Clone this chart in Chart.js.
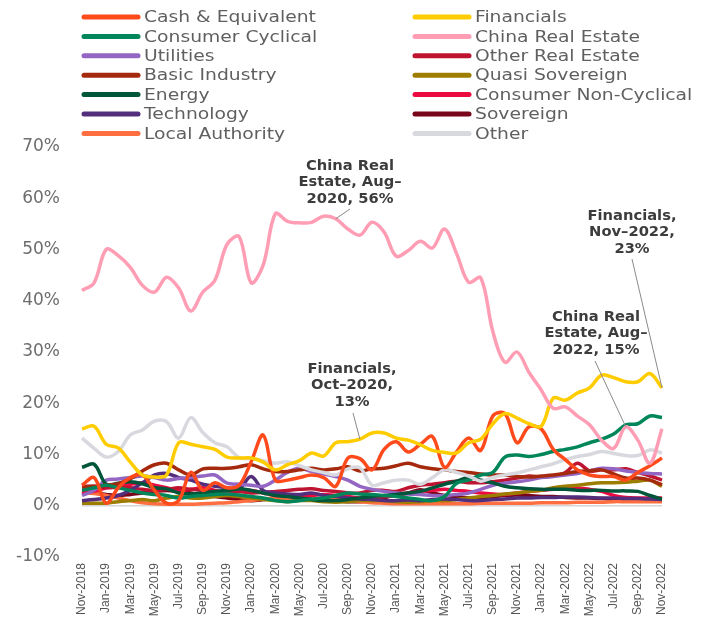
<!DOCTYPE html>
<html>
<head>
<meta charset="utf-8">
<script src="https://cdn.jsdelivr.net/npm/chart.js@4.4.1/dist/chart.umd.min.js"></script>
<style>
  html, body { margin: 0; padding: 0; background: #fff; }
  #wrap { width: 712px; height: 618px; }
</style>
</head>
<body>
<div id="wrap"><canvas id="chart" width="712" height="618"></canvas></div>
<script>
// monthly categories
const months = ['Nov-2018','Dec-2018','Jan-2019','Feb-2019','Mar-2019','Apr-2019','May-2019','Jun-2019','Jul-2019','Aug-2019','Sep-2019','Oct-2019',
  'Nov-2019','Dec-2019','Jan-2020','Feb-2020','Mar-2020','Apr-2020','May-2020','Jun-2020','Jul-2020','Aug-2020','Sep-2020','Oct-2020',
  'Nov-2020','Dec-2020','Jan-2021','Feb-2021','Mar-2021','Apr-2021','May-2021','Jun-2021','Jul-2021','Aug-2021','Sep-2021','Oct-2021',
  'Nov-2021','Dec-2021','Jan-2022','Feb-2022','Mar-2022','Apr-2022','May-2022','Jun-2022','Jul-2022','Aug-2022','Sep-2022','Oct-2022','Nov-2022'];

const yTicks = [-10, 0, 10, 20, 30, 40, 50, 60, 70];

// series (% of portfolio)
const cashEquivalent = [4,5.5,0.5,3.5,5.5,6,3,0.5,1,6.5,3,4.5,3.5,4,8.6,13.8,5,5,5.5,6,5.5,3.8,9.3,9.2,7,11,12.5,10.5,12,13.5,7.5,10.5,13.2,10.8,17.5,18,12.3,15.4,15,11,9,7,6,5.7,5.7,5,6.5,7.8,9.3];
const financials = [15,15.5,12,11.3,8.5,6,5.6,6,12.3,12,11.5,11,9.5,9.3,9.3,8.5,7,8,8.8,10.3,9.7,12.3,12.5,13,14.2,14.2,13.2,12.8,11.9,10.8,10.4,10.3,12.3,13,16,18,17.1,16,15.5,21,20.6,22,23,25.5,25,24.2,24.2,25.8,23];
const consumerCyclical = [3,3.5,4,3.5,3,2.5,2.2,2,1.5,1.8,2,2.2,2.3,2.1,1.8,1.5,1,0.8,1,1.3,1.5,2,2.5,2.3,2.2,2,1.8,1.5,1.2,1,1.8,4.4,5,6,6.5,9.5,9.9,9.6,10,10.6,11,11.5,12.3,13,14,15.8,16,17.5,17.2];
const chinaRealEstate = [42,43.5,50,48.8,46.5,43,41.7,44.6,42.5,38,41.7,44,51,52.5,43.5,47,57,55.5,55.2,55.3,56.5,56,54,52.8,55.3,53.4,48.7,49.8,51.6,50.3,54,49.2,43.6,44.5,34,28,30,26,22.6,19,19.3,17.5,15.8,12.8,11.2,15.4,12.8,8.3,15];
const utilities = [2,3,5,5.2,5.5,5.8,5.5,5,5.3,5.5,5.8,6,4.4,4.2,4,3.8,5,6.5,7.3,6.7,6.2,5.7,5,3.8,3.2,2.8,2.5,2.3,2.2,2,2,2.2,2.5,3.2,4,4.4,4.7,5,5.5,5.7,6,6.3,6.8,7.3,7.2,6.8,6.5,6.3,6.2];
const otherRealEstate = [3.8,3.8,3.5,3.6,3.5,3.2,3,3.2,3.5,3.2,3,2.8,3,2.8,2.5,2.6,2.8,3,3.2,3.3,3,2.8,2.5,2.5,3,3,2.8,3.5,4,4.2,4.5,4.8,4.5,4.5,4.7,5,5.4,5.8,5.6,5.8,6.5,8.3,6.8,7,7,7.2,6.5,5.8,5];
const basicIndustry = [3.6,3.8,4,4.3,5.3,6.8,8,8.3,7,6,7.2,7.3,7.3,7.6,8,7.2,6.7,6.7,7,7.3,7,7.2,7.6,6.8,7.2,7.3,7.8,8.3,7.6,7.2,7,6.7,6.5,6.2,6,6,5.7,5.6,5.8,6,6.3,6.7,6.8,7,6.2,5.4,5.4,5,4.1];
const quasiSovereign = [0.5,0.5,0.5,0.8,1,1.2,1,1.5,1.8,1.5,1.5,1.8,2,1.8,1.5,1.2,1,0.8,1,1,0.8,0.7,0.8,1,1,1,0.8,0.7,0.8,1,1,1.2,1.5,1.8,2,2.3,2.5,2.8,3,3.5,3.8,4,4.3,4.5,4.5,4.6,4.8,5,3.8];
const energy = [7.5,8.1,4.2,4.4,4.7,4.3,3.5,3.3,2.5,2.3,2.5,2.8,3,3.3,3,2.5,2,1.8,1.5,1.2,1,1,1.2,1.5,1.8,2,2.2,2.5,2.8,3.5,4.2,4.8,5.5,5,4.5,3.8,3.5,3.3,3.2,3.2,3.2,3,3,3,2.9,2.9,2.8,2,1.3];
const consumerNonCyclical = [2.5,2.8,3.5,4,4.2,4.5,4,3.5,3,3.2,3.5,3,2.5,2.8,3,2.5,2,2,1.8,2,2.2,2,1.8,1.5,1.5,1.8,2,2.5,2.8,3,3.2,3,2.8,2.5,2.3,2.2,2.5,2.8,3,3.2,3.3,3.4,3.2,2.8,2,1.6,1.5,1.5,1.5];
const technology = [1,1.2,1.5,2,3,4.5,6,6.3,5.5,5,4.2,3.8,3.5,3.3,5.7,3,2.5,2.3,2.2,2.5,2,1.8,1.5,1.3,1.2,1,1,1.1,1,1.2,1.3,1.2,1,1,1.2,1.3,1.5,1.5,1.6,1.6,1.7,1.7,1.6,1.5,1.5,1.4,1.4,1.3,1.2];
const sovereign = [2.8,2.5,2.2,2,2.2,2.5,2.8,3,2.8,2.5,2,1.8,1.5,1.2,1,1.2,1.5,1.3,1.2,1.5,1.2,1,0.8,0.8,1,1.5,2.2,2.5,3.1,2.5,2,1.8,1.5,1.6,1.8,2,2.1,2,1.8,1.8,1.6,1.5,1.5,1.4,1.3,1.3,1.3,1.2,1.2];
const localAuthority = [2.5,2.4,2,1.5,1,0.6,0.4,0.3,0.3,0.3,0.4,0.5,0.6,0.8,1,1.3,1.5,1.4,1.4,1.4,1.3,1.2,1,0.8,0.6,0.5,0.4,0.4,0.4,0.4,0.4,0.4,0.4,0.5,0.5,0.5,0.5,0.5,0.6,0.6,0.6,0.7,0.7,0.7,0.8,0.8,0.8,0.8,0.8];
const other = [13.2,11.2,9.5,10.6,13.8,14.8,16.5,16.4,13.2,17.2,14.3,12.3,11.5,9.4,9.2,8.8,8.3,8.6,7.8,7,6.5,6,7.2,7.4,4,4.5,5,5,4.2,5.5,7,6.5,5.8,4.8,5.5,6,6.4,7,7.6,8.2,9,9.6,10,10.6,10.2,9.8,9.8,10.9,10.3];

// legend: first column then second column
const series = [
  { name: 'Cash & Equivalent', data: cashEquivalent, color: '#ff4a1c', z: 3 },
  { name: 'Consumer Cyclical', data: consumerCyclical, color: '#00865a', z: 5 },
  { name: 'Utilities', data: utilities, color: '#9466c4', z: 8 },
  { name: 'Basic Industry', data: basicIndustry, color: '#a52a0d', z: 6 },
  { name: 'Energy', data: energy, color: '#00563a', z: 7 },
  { name: 'Technology', data: technology, color: '#532e7c', z: 9 },
  { name: 'Local Authority', data: localAuthority, color: '#ff6e40', z: 13 },
  { name: 'Financials', data: financials, color: '#ffcc00', z: 2 },
  { name: 'China Real Estate', data: chinaRealEstate, color: '#ff9db4', z: 1 },
  { name: 'Other Real Estate', data: otherRealEstate, color: '#be1432', z: 10 },
  { name: 'Quasi Sovereign', data: quasiSovereign, color: '#9c7d00', z: 11 },
  { name: 'Consumer Non-Cyclical', data: consumerNonCyclical, color: '#ec0a40', z: 12 },
  { name: 'Sovereign', data: sovereign, color: '#780519', z: 14 },
  { name: 'Other', data: other, color: '#d8d8df', z: 4 }
];

const callouts = [
  { ds: 'China Real Estate', i: 21, lines: ['China Real', 'Estate, Aug–', '2020, 56%'], cx: 350, cy: 166, from: [350, 209] },
  { ds: 'Financials', i: 23, lines: ['Financials,', 'Oct–2020,', '13%'], cx: 352, cy: 369, from: [353, 413] },
  { ds: 'Financials', i: 48, lines: ['Financials,', 'Nov–2022,', '23%'], cx: 632, cy: 216, from: [632, 259] },
  { ds: 'China Real Estate', i: 45, lines: ['China Real', 'Estate, Aug–', '2022, 15%'], cx: 596, cy: 317, from: [595, 361] }
];

function wideText(ctx, txt, x, y, sx, align) {
  ctx.save();
  ctx.translate(x, y);
  ctx.scale(sx, 1);
  ctx.textAlign = align;
  ctx.fillText(txt, 0, 0);
  ctx.restore();
}

const extras = {
  id: 'extras',
  afterDraw(chart) {
    const ctx = chart.ctx;
    // legend
    ctx.save();
    ctx.textBaseline = 'middle';
    ctx.font = '16px "DejaVu Sans"';
    ctx.fillStyle = '#5f5f5f';
    series.forEach((s, k) => {
      const col = Math.floor(k / 7), row = k % 7;
      const x0 = col ? 413 : 82;
      const y = 17 + row * 19.4;
      ctx.strokeStyle = s.color;
      ctx.lineWidth = 5;
      ctx.lineCap = 'round';
      ctx.beginPath(); ctx.moveTo(x0 + 2, y); ctx.lineTo(x0 + 56, y); ctx.stroke();
      wideText(ctx, s.name, x0 + 62, y + 1, 1.17, 'left');
    });
    ctx.restore();

    // callouts
    const xs = chart.scales.x, ys = chart.scales.y;
    ctx.save();
    ctx.font = 'bold 14px "DejaVu Sans"';
    ctx.fillStyle = '#3c3c3c';
    ctx.textBaseline = 'middle';
    callouts.forEach(c => {
      const s = series.find(d => d.name === c.ds);
      const px = xs.getPixelForValue(c.i), py = ys.getPixelForValue(s.data[c.i]);
      ctx.strokeStyle = '#8a8a8a';
      ctx.lineWidth = 1;
      ctx.beginPath(); ctx.moveTo(c.from[0], c.from[1]); ctx.lineTo(px, py); ctx.stroke();
      c.lines.forEach((t, j) => wideText(ctx, t, c.cx, c.cy + j * 16.8, 1.05, 'center'));
    });
    ctx.restore();
  }
};

new Chart(document.getElementById('chart'), {
  type: 'line',
  data: {
    labels: months,
    datasets: series.map(s => ({
      label: s.name,
      data: s.data,
      borderColor: s.color,
      backgroundColor: s.color,
      borderWidth: 3.5,
      pointRadius: 0,
      tension: 0.35,
      fill: false,
      order: s.z
    }))
  },
  options: {
    responsive: false,
    animation: false,
    layout: { padding: { top: 147, right: 50, left: 0, bottom: 0 } },
    plugins: { legend: { display: false }, tooltip: { enabled: false } },
    scales: {
      x: {
        offset: false,
        grid: { display: false, drawTicks: false },
        border: { display: false },
        ticks: {
          autoSkip: false, minRotation: 90, maxRotation: 90, padding: 6,
          color: '#555', font: { family: '"Liberation Sans", Arial', size: 12 },
          callback: (v, i) => (i % 2 === 0 ? months[i] : '')
        },
        afterFit: s => { s.height = 61; }
      },
      y: {
        min: yTicks[0], max: yTicks[yTicks.length - 1],
        afterBuildTicks: s => { s.ticks = yTicks.map(v => ({ value: v })); },
        grid: {
          drawTicks: false,
          color: c => (c.tick && c.tick.value === 0 ? '#d6d6d6' : 'rgba(0,0,0,0)'),
          lineWidth: 1.5
        },
        border: { display: false },
        ticks: {
          padding: 22, color: '#6e6e6e',
          font: { family: '"DejaVu Sans"', size: 17 },
          callback: v => v + '%'
        },
        afterFit: s => { s.width = 82; }
      }
    }
  },
  plugins: [extras]
});
</script>
</body>
</html>
